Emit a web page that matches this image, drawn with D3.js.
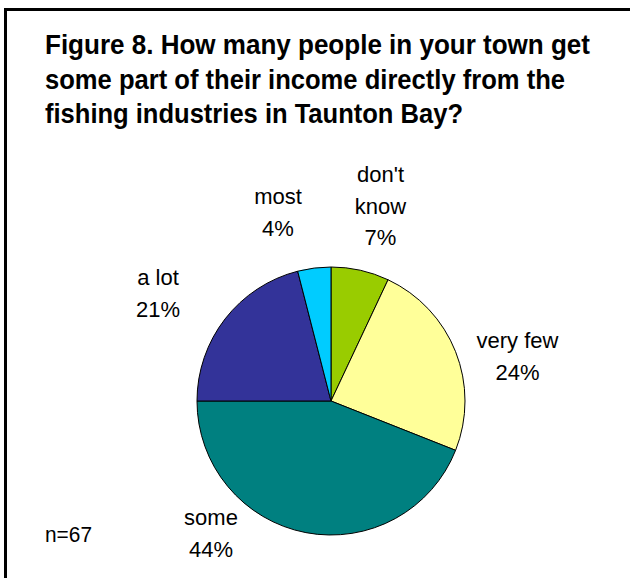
<!DOCTYPE html>
<html>
<head>
<meta charset="utf-8">
<script src="https://cdn.jsdelivr.net/npm/d3@7"></script>
<style>
  html, body { margin: 0; padding: 0; background: #fff; }
  svg { display: block; }
</style>
</head>
<body>
<svg id="chart" width="630" height="578"></svg>
<script>
// Survey responses (percent of respondents), clockwise from 12 o'clock
const categories = ["don't know", "very few", "some", "a lot", "most"];
const percents   = [7, 24, 44, 21, 4];
const colors     = ["#99CC00", "#FFFF99", "#008080", "#333399", "#00CCFF"];
const titleLines = [
  "Figure 8. How many people in your town get",
  "some part of their income directly from the",
  "fishing industries in Taunton Bay?"
];
const sampleNote = "n=67";

// Layout
const W = 630, H = 578;
const cx = 331, cy = 401, radius = 134;
// condensed widths for the narrow-face title lines and note
const titleWidths = [545, 520, 418];
const noteWidth = 47;
// label anchor offsets from the pie centre (first baseline)
const labelOffsets = [[49.5, -219], [186.5, -53], [-120, 124], [-173, -116], [-53, -197]];
const labelLineGap = 31.5;

const svg = d3.select("#chart");

// frame
svg.append("rect")
  .attr("x", 5.5).attr("y", 9.5)
  .attr("width", 800).attr("height", 800)
  .attr("fill", "none")
  .attr("stroke", "#000")
  .attr("stroke-width", 3);

// title (narrow bold face, emulated by condensing Liberation Sans Bold)
const sans = "'Liberation Sans', Arial, sans-serif";
svg.append("g")
  .selectAll("text")
  .data(titleLines)
  .join("text")
  .attr("x", 45)
  .attr("y", (d, i) => 54 + i * 34.5)
  .attr("font-family", sans)
  .attr("font-weight", "bold")
  .attr("font-size", 28)
  .attr("fill", "#000")
  .attr("textLength", (d, i) => titleWidths[i])
  .attr("lengthAdjust", "spacingAndGlyphs")
  .text(d => d);

// pie
const pie = d3.pie().sort(null).value(d => d)(percents);
const arc = d3.arc().innerRadius(0).outerRadius(radius);

const g = svg.append("g").attr("transform", `translate(${cx},${cy})`);
g.selectAll("path")
  .data(pie)
  .join("path")
  .attr("d", arc)
  .attr("fill", (d, i) => colors[i])
  .attr("stroke", "#000")
  .attr("stroke-width", 1);

// slice labels: category (may wrap) + percentage
const labelLines = categories.map((c, i) => {
  const words = c === "don't know" ? ["don't", "know"] : [c];
  return words.concat(d3.format("d")(percents[i]) + "%");
});

g.selectAll("text.lbl")
  .data(labelLines)
  .join("text")
  .attr("class", "lbl")
  .attr("text-anchor", "middle")
  .attr("font-family", sans)
  .attr("font-size", 22)
  .attr("fill", "#000")
  .each(function(lines, i) {
    const t = d3.select(this);
    lines.forEach((ln, k) => {
      t.append("tspan")
        .attr("x", labelOffsets[i][0])
        .attr("y", labelOffsets[i][1] + k * labelLineGap)
        .text(ln);
    });
  });

// sample size
svg.append("text")
  .attr("x", 45)
  .attr("y", 542)
  .attr("font-family", sans)
  .attr("font-size", 22)
  .attr("fill", "#000")
  .attr("textLength", noteWidth)
  .attr("lengthAdjust", "spacingAndGlyphs")
  .text(sampleNote);
</script>
</body>
</html>
